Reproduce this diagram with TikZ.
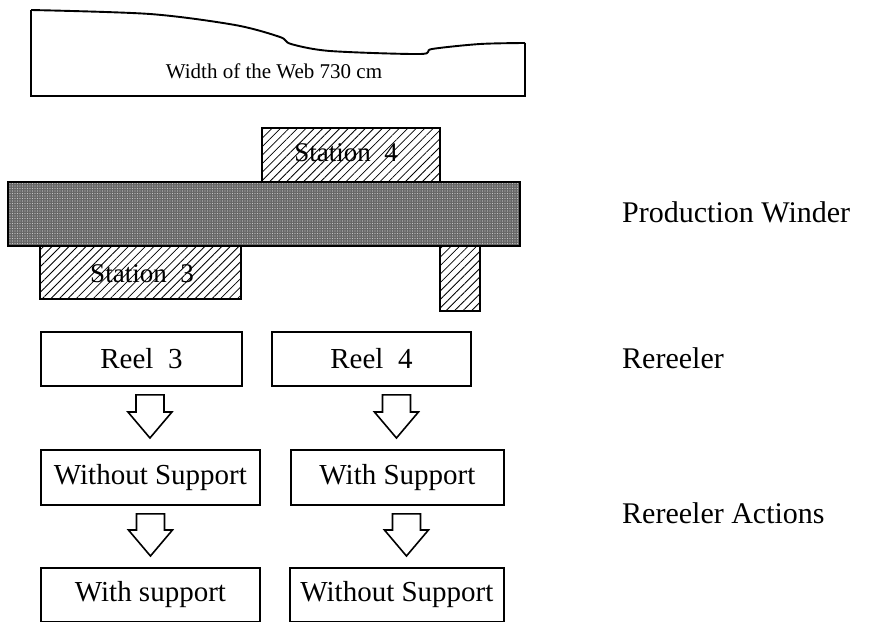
\documentclass[tikz,border=0pt]{standalone}
\usepackage{fontspec}
\setmainfont{Liberation Serif}
\usetikzlibrary{positioning, calc, patterns.meta}

\begin{document}
\begin{tikzpicture}[
    x=1pt, y=-1pt,
    box/.style={draw, line width=1.9pt, inner sep=0pt, anchor=north west, minimum height=54pt, font=\fontsize{29}{32}\selectfont},
    hatched/.style={draw, line width=1.9pt, pattern={Lines[angle=45, distance=6pt, line width=0.8pt]}},
    side/.style={anchor=west, inner sep=0pt, font=\fontsize{30}{34}\selectfont},
    blockarrow/.style={draw, line width=1.6pt, fill=white, to path={
        let \p1=(\tikztostart), \p2=(\tikztotarget) in
        (\x1-14pt,\y1) -- (\x1+14pt,\y1) -- (\x1+14pt,\y2+26pt) -- (\x1+22pt,\y2+26pt)
        -- (\x1,\y2) -- (\x1-22pt,\y2+26pt) -- (\x1-14pt,\y2+26pt) -- cycle}}
]
    \useasboundingbox (0,0) rectangle (874,621);

    % the web
    \draw[line width=1.9pt] (525,43) -- (525,96) -- (31,96) -- (31,10)
        plot[smooth, tension=0.5] coordinates {(31,10) (150,14) (235,25) (280,37) (291,44) (330,51) (420,54) (432,49) (480,44) (525,43)};
    \node[font=\fontsize{21}{24}\selectfont] (web) at (274,71) {Width of the Web 730 cm};

    % production winder with its stations
    \draw[hatched] (262,128) rectangle (440,183);
    \node[font=\fontsize{27}{30}\selectfont] (st4) at (346,153) {Station\ \ 4};
    \draw[line width=2.2pt, preaction={fill=black!60}, pattern={Dots[distance=2.5pt, radius=0.55pt]}, pattern color=gray!45]
        (8,182) rectangle (520,246);
    \draw[hatched] (40,246) rectangle (241,299);
    \node[font=\fontsize{27}{30}\selectfont] (st3) at (142,274) {Station\ \ 3};
    \draw[hatched] (440,246) rectangle (480,311);

    % rereeler
    \node[box, minimum width=201pt] (reel3) at (40,331) {Reel\ \ 3};
    \node[box, minimum width=199pt] (reel4) at (271,331) {Reel\ \ 4};
    \node[box, minimum width=219pt, minimum height=55pt] (wo3) at (40,449) {Without Support};
    \node[box, minimum width=213pt, minimum height=55pt] (ws4) at (290,449) {With Support};
    \node[box, minimum width=219pt] (ws3) at (40,567) {With support};
    \node[box, minimum width=214pt] (wo4) at (289,567) {Without Support};

    \draw[blockarrow] ([xshift=8.5pt, yshift=-8pt]reel3.south) to ([yshift=11pt]wo3.north);
    \draw[blockarrow] ([xshift=25pt, yshift=-8pt]reel4.south) to ([yshift=11pt]ws4.north);
    \draw[blockarrow] ([yshift=-8pt]wo3.south) to ([yshift=11pt]ws3.north);
    \draw[blockarrow] ([xshift=9pt, yshift=-8pt]ws4.south) to ([yshift=11pt]wo4.north);

    % Labels
    \node[side] (winder) at (622,212) {Production Winder};
    \node[side] (rereeler) at (622,358) {Rereeler};
    \node[side] (actions) at (622,513) {Rereeler Actions};
\end{tikzpicture}
\end{document}
